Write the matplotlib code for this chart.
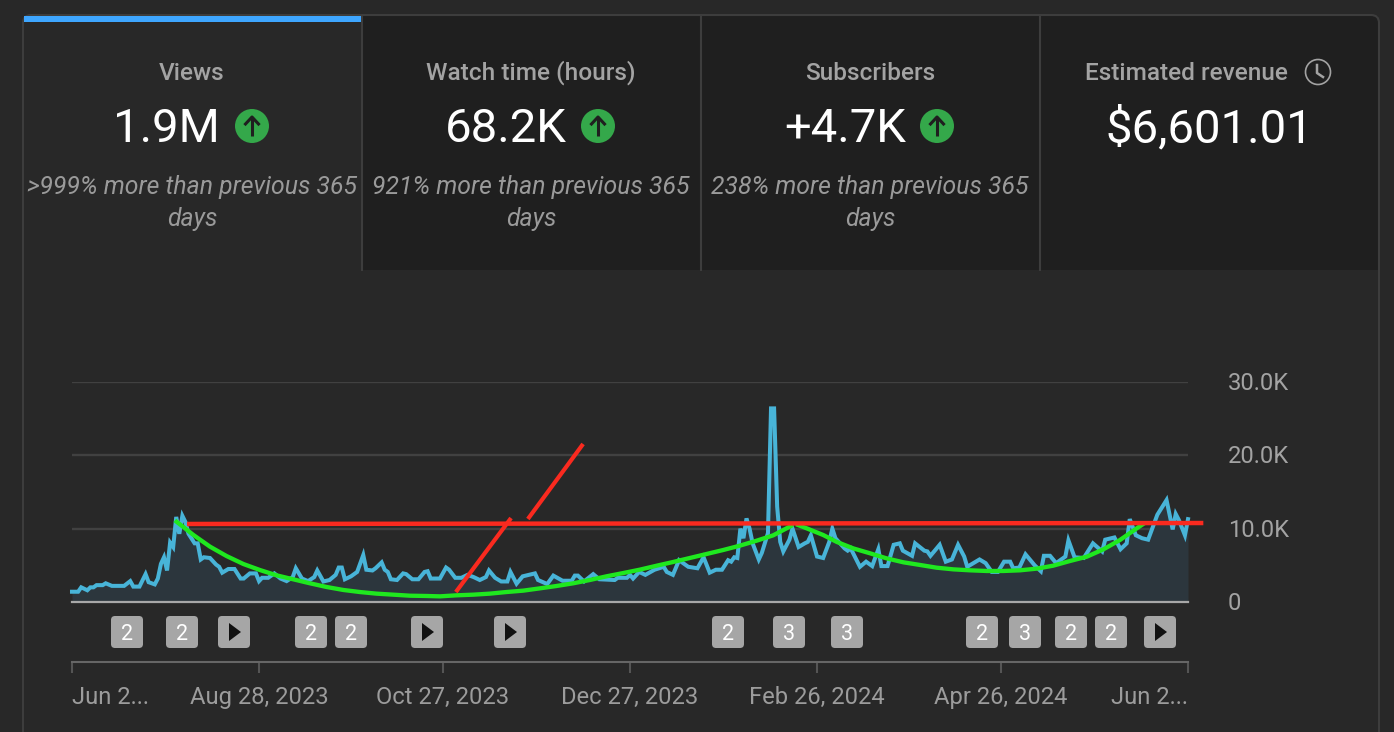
import matplotlib
matplotlib.use("Agg")
import matplotlib.pyplot as plt
from matplotlib.patches import Rectangle, FancyBboxPatch, Circle, Polygon

W, H = 1394, 732
BG = "#282828"
TAB = "#1f1f1f"
BORDER = "#3d3d3d"
GREY = "#a3a3a3"

plt.rcParams["font.family"] = ["Roboto", "DejaVu Sans"]

# card texts
card_titles = ["Views", "Watch time (hours)", "Subscribers", "Estimated revenue"]
card_values = ["1.9M", "68.2K", "+4.7K", "$6,601.01"]
card_notes = [">999% more than previous 365", "921% more than previous 365", "238% more than previous 365", ""]

# daily views in thousands, vertices
days = [0, 2, 3, 5, 6, 7, 8, 10, 11, 13, 17, 19, 20, 22, 24, 25, 27, 28, 29, 30, 31, 32, 33, 34, 35, 36, 37, 38,
        40, 41, 42, 43, 45, 47, 48, 49, 51, 53, 55, 56, 58, 60, 61, 62, 64, 66, 68, 70, 72, 73, 75, 77, 79, 80,
        82, 84, 86, 87, 88, 89, 91, 93, 95, 96, 98, 99, 101, 102, 103, 104, 106, 108, 109, 111, 113, 115, 116,
        117, 120, 122, 123, 125, 127, 129, 131, 133, 135, 136, 138, 140, 142, 143, 145, 146, 147, 149, 151, 152,
        155, 157, 160, 163, 164, 165, 167, 170, 172, 177, 178, 181, 182, 183, 185, 187, 190, 193, 194, 196, 198,
        201, 204, 206, 208, 210, 212, 214, 215, 216, 217, 218, 219, 220, 221, 222, 224, 225, 227, 228, 229, 230,
        231, 232, 234, 235, 237, 239, 240, 241, 243, 245, 247, 248, 249, 252, 253, 254, 257, 259, 261, 263, 264,
        266, 268, 270, 271, 274, 275, 278, 279, 280, 283, 285, 287, 289, 291, 292, 294, 296, 298, 300, 302, 304,
        306, 307, 309, 311, 314, 316, 317, 319, 321, 324, 325, 327, 330, 333, 336, 337, 340, 342, 344, 345, 347,
        349, 351, 354, 357, 359, 360, 361, 363, 364]
views = [1.4, 1.4, 2.0, 1.6, 2.0, 2.0, 2.3, 2.3, 2.55, 2.2, 2.2, 2.85, 2.1, 2.1, 3.8, 2.7, 2.4, 3.2, 5.2, 6.1, 4.3, 8.1, 7.5, 11.6, 9.3, 11.75, 10.9, 9.3,
         8.0, 8.0, 5.8, 6.1, 6.0, 5.1, 4.8, 4.0, 4.5, 4.5, 3.2, 3.2, 3.9, 3.9, 2.85, 3.3, 3.3, 3.9, 3.2, 2.85, 3.4, 4.6, 3.2, 2.85, 3.4, 4.3,
         2.8, 3.0, 3.7, 4.7, 4.7, 3.1, 3.5, 4.1, 6.4, 4.4, 4.3, 4.6, 5.4, 4.4, 4.1, 3.1, 3.0, 3.9, 3.8, 3.1, 3.1, 4.1, 4.2,
         3.2, 3.2, 4.7, 4.4, 3.3, 3.3, 3.7, 3.4, 3.0, 3.4, 4.3, 3.3, 2.8, 2.8, 4.1, 2.5, 3.0, 3.5, 3.7, 3.9, 3.0,
         2.45, 3.6, 2.9, 2.9, 3.6, 3.6, 2.8, 3.8, 3.1, 3.0, 3.3, 3.3, 3.7, 3.2, 4.1, 3.7, 4.4, 4.8, 4.1, 3.7, 5.7,
         4.8, 4.6, 6.1, 4.0, 4.4, 4.4, 5.7, 5.5, 6.1, 6.0, 10.0, 8.7, 11.4, 10.0, 8.0, 5.8, 6.7, 9.4, 26.4, 26.4, 13.0,
         8.2, 6.9, 8.5, 10.0, 7.5, 8.0, 8.2, 9.1, 6.2, 6.0, 8.2, 10.0, 8.7, 7.3, 7.0, 7.3, 4.8, 5.5, 4.9, 7.2, 4.9,
         4.9, 7.8, 8.0, 7.0, 6.3, 8.0, 7.0, 6.9, 6.3, 7.8, 5.5, 5.8, 7.8, 6.2, 4.8, 5.3, 5.8, 5.3, 4.1, 4.1, 5.5,
         5.5, 4.6, 4.7, 6.5, 5.0, 4.2, 6.3, 6.3, 5.3, 6.2, 8.4, 6.1, 6.0, 8.0, 6.9, 8.5, 8.8, 7.2, 8.0, 11.3, 9.1,
         8.7, 8.5, 11.9, 13.9, 9.9, 12.0, 11.2, 9.1, 11.3]

# hand drawn marks on top of the chart
green1_days = [34.1, 39.6, 45, 50.4, 55.9, 61.3, 66.7, 72.2, 77.6, 83, 88.5, 93.9, 99.3, 104.8, 110.2, 115.7, 120,
               125.4, 130.9, 136.3, 141.7, 147.2, 152.6, 158, 163.5, 168.9, 174.3, 179.8, 185.2, 190.7, 196, 201.5,
               207, 212.4, 217.8, 223.3, 228.7, 234.5]
green1_vals = [10.95, 9.14, 7.55, 6.27, 5.18, 4.36, 3.64, 3.09, 2.55, 2.05, 1.64, 1.36, 1.14, 1.0, 0.86, 0.82, 0.77,
               0.91, 1.0, 1.14, 1.36, 1.55, 1.86, 2.18, 2.55, 3.0, 3.5, 3.95, 4.41, 4.95, 5.45, 6.0,
               6.55, 7.09, 7.68, 8.36, 9.09, 10.36]
green2_days = [236.8, 239.6, 245, 249.4, 254.9, 260.3, 265.7, 271.2, 276.6, 282, 287.5, 292.9, 298.3, 303.8, 309.2,
               314.7, 320, 325.5, 331, 336.4, 341.8, 347.3, 349.4]
green2_vals = [10.5, 10.05, 9.14, 8.2, 7.3, 6.64, 5.95, 5.41, 5.05, 4.68, 4.45, 4.32, 4.23, 4.23, 4.32,
               4.55, 4.95, 5.59, 6.18, 7.18, 8.45, 10.05, 10.64]
red_h_days = [37.5, 369]
red_h_vals = [10.64, 10.77]
red_d1_days = [125.2, 143.2]
red_d1_vals = [1.36, 11.45]
red_d2_days = [148.7, 166.7]
red_d2_vals = [11.32, 21.55]

ytick_vals = [0, 10, 20, 30]
ytick_labels = ["0", "10.0K", "20.0K", "30.0K"]
xtick_days = [0, 61, 121, 182, 243, 303, 364]
xtick_labels = ["Jun 2...", "Aug 28, 2023", "Oct 27, 2023", "Dec 27, 2023", "Feb 26, 2024", "Apr 26, 2024", "Jun 2..."]

# annotation badges under the chart
badge_x = [127, 182, 234, 311, 351, 427, 510, 728, 789, 847, 982, 1025, 1071, 1111, 1160]
badge_text = ["2", "2", "play", "2", "2", "play", "play", "2", "3", "3", "2", "3", "2", "2", "play"]

fig = plt.figure(figsize=(W / 100, H / 100), dpi=100, facecolor=BG)

# page layer in pixels
page = fig.add_axes([0, 0, 1, 1], zorder=0)
page.set_xlim(0, W)
page.set_ylim(H, 0)
page.axis("off")

# frame with rounded top corners, runs off the bottom of the picture
page.add_patch(FancyBboxPatch((31, 23), 1340, 780, boxstyle="round,pad=8,rounding_size=8", fc="none", ec=BORDER, lw=1.5, zorder=3))
page.add_patch(Rectangle((362, 16), 1016, 254, fc=TAB, ec="none"))
for x in [362, 701, 1040]:
    page.plot([x, x], [16, 270], color=BORDER, lw=1.5)
page.add_patch(Rectangle((24, 16), 337, 6, fc="#3ea6ff", ec="none", zorder=4))

title_x = [192, 531, 870, 1186]
value_x = [166, 506, 845, 1209]
arrow_x = [252, 598, 937]
for i in range(4):
    page.text(title_x[i], 80, card_titles[i], color=GREY, fontsize=17.6, fontweight=500, ha="center", va="baseline")
    page.text(value_x[i], 142, card_values[i], color="white", fontsize=34, ha="center", va="baseline")
    if card_notes[i]:
        page.text(title_x[i], 194, card_notes[i], color="#9a9a9a", fontsize=17.8, style="italic", ha="center", va="baseline")
        page.text(title_x[i], 226, "days", color="#9a9a9a", fontsize=17.8, style="italic", ha="center", va="baseline")

for x in arrow_x:
    page.add_patch(Circle((x, 126), 17, fc="#34a84a", ec="none"))
    page.plot([x, x], [136, 118], color="#1f1f1f", lw=2.2, solid_capstyle="butt")
    page.plot([x - 6.5, x, x + 6.5], [124, 117, 124], color="#1f1f1f", lw=2.2)

# clock icon
page.add_patch(Circle((1318, 72), 12.5, fc="none", ec=GREY, lw=1.2))
page.plot([1317, 1317, 1323], [65, 73, 77], color=GREY, lw=1.8)

for x, t in zip(badge_x, badge_text):
    page.add_patch(FancyBboxPatch((x - 14, 618), 28, 28, boxstyle="round,pad=2,rounding_size=4", fc="#a6a6a6", ec="none"))
    if t == "play":
        page.add_patch(Polygon([(x - 5, 623), (x + 7, 632), (x - 5, 641)], fc="#111111", ec="none"))
    else:
        page.text(x, 640, t, color="white", fontsize=15.5, ha="center", va="baseline")

# chart
ax = fig.add_axes([72 / W, (H - 602) / H, 1116 / W, 220 / H], zorder=1)
ax.patch.set_alpha(0)
ax.set_xlim(0, 364)
ax.set_ylim(0, 30)
for s in ax.spines.values():
    s.set_visible(False)
ax.set_xticks([])
ax.set_yticks(ytick_vals[1:])
ax.tick_params(axis="y", length=0, labelleft=False)
ax.grid(axis="y", color="#414141", lw=1.7)
ax.set_axisbelow(True)
ax.fill_between(days, views, 0, color="#2c363d", lw=0, zorder=2)
ax.plot(days, views, color="#48b4d8", lw=2.9, solid_joinstyle="miter", zorder=3, clip_on=False)
ax.axhline(0, color="#a8a8a8", lw=1.6, zorder=3, clip_on=False)
ax.plot(green1_days, green1_vals, color="#1fe81f", lw=3.1, zorder=4, clip_on=False)
ax.plot(green2_days, green2_vals, color="#1fe81f", lw=3.1, zorder=4, clip_on=False)
ax.plot(red_h_days, red_h_vals, color="#fa2a1f", lw=3.2, zorder=5, clip_on=False, solid_capstyle="butt")
ax.plot(red_d1_days, red_d1_vals, color="#fa2a1f", lw=3, zorder=5, clip_on=False, solid_capstyle="butt")
ax.plot(red_d2_days, red_d2_vals, color="#fa2a1f", lw=3, zorder=5, clip_on=False, solid_capstyle="butt")

for v, lab in zip(ytick_vals, ytick_labels):
    ax.annotate(lab, (364, v), xytext=(40 * 0.72, -8 * 0.72), textcoords="offset points",
                color=GREY, fontsize=17.1, ha="left", va="baseline", annotation_clip=False)

# date axis
dax = fig.add_axes([72 / W, (H - 662) / H, 1116 / W, 0.0005], zorder=1)
dax.patch.set_alpha(0)
dax.set_xlim(0, 364)
dax.set_yticks([])
for k in ["top", "left", "right"]:
    dax.spines[k].set_visible(False)
dax.spines["bottom"].set_color("#666666")
dax.spines["bottom"].set_linewidth(1.5)
dax.set_xticks(xtick_days)
dax.set_xticklabels(xtick_labels, color="#9c9c9c", fontsize=17.1)
dax.tick_params(axis="x", length=8, width=1.5, color="#555555", pad=9)
labs = dax.get_xticklabels()
labs[0].set_ha("left")
labs[-1].set_ha("right")

fig.savefig("out.png", dpi=100, facecolor=BG)
